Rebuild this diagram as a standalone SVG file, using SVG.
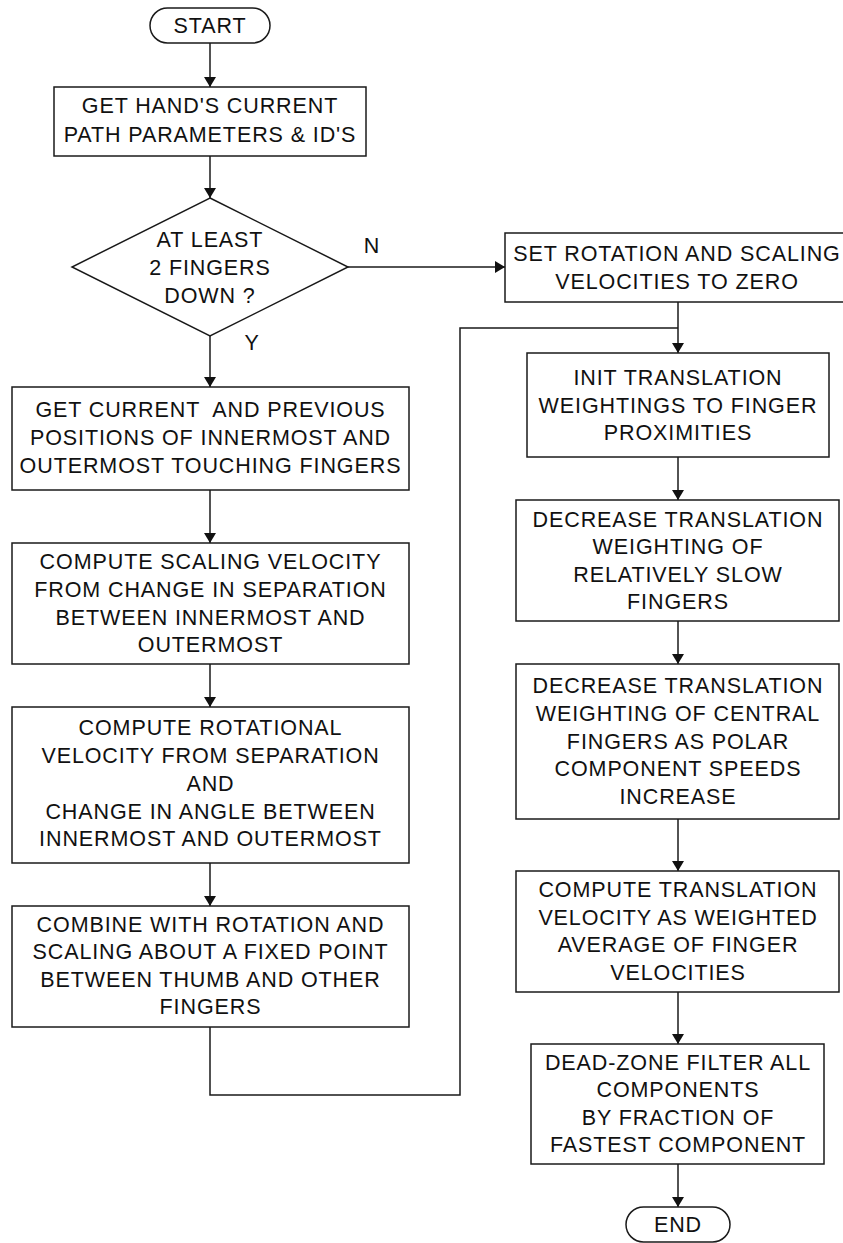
<svg xmlns="http://www.w3.org/2000/svg" width="843" height="1243" viewBox="0 0 843 1243">
<defs>
<marker id="arr" markerUnits="userSpaceOnUse" markerWidth="11" markerHeight="12" refX="10" refY="6" orient="auto">
<path d="M0,0 L10,6 L0,12 z" fill="#111"/>
</marker>
<style>
.b{fill:#fff;stroke:#1a1a1a;stroke-width:1.5}
.c{fill:none;stroke:#1a1a1a;stroke-width:1.5}
.t{font-family:"Liberation Sans",Arial,Helvetica,sans-serif;font-size:21.5px;letter-spacing:0.9px;fill:#111;text-anchor:middle}
</style>
</defs>
<rect width="843" height="1243" fill="#fff"/>
<g id="connectors">
<line class="c" x1="210" y1="43" x2="210" y2="87" marker-end="url(#arr)"/>
<line class="c" x1="210" y1="156" x2="210" y2="198" marker-end="url(#arr)"/>
<line class="c" x1="210" y1="336" x2="210" y2="387" marker-end="url(#arr)"/>
<line class="c" x1="348" y1="267" x2="505" y2="267" marker-end="url(#arr)"/>
<line class="c" x1="210" y1="490" x2="210" y2="543" marker-end="url(#arr)"/>
<line class="c" x1="210" y1="664" x2="210" y2="707" marker-end="url(#arr)"/>
<line class="c" x1="210" y1="863" x2="210" y2="906" marker-end="url(#arr)"/>
<path class="c" d="M210,1027 V1095 H460 V328 H678"/>
<line class="c" x1="678" y1="302" x2="678" y2="353" marker-end="url(#arr)"/>
<line class="c" x1="678" y1="457" x2="678" y2="500" marker-end="url(#arr)"/>
<line class="c" x1="678" y1="621" x2="678" y2="664" marker-end="url(#arr)"/>
<line class="c" x1="678" y1="819" x2="678" y2="871" marker-end="url(#arr)"/>
<line class="c" x1="678" y1="992" x2="678" y2="1044" marker-end="url(#arr)"/>
<line class="c" x1="678" y1="1164" x2="678" y2="1207" marker-end="url(#arr)"/>
<text class="t" x="372" y="253">N</text>
<text class="t" x="252" y="350">Y</text>
</g>
<g id="start">
<rect class="b" x="150" y="8" width="120" height="35" rx="17.5"/>
<text class="t" x="210" y="33">START</text>
</g>
<g id="get-params">
<rect class="b" x="54" y="87" width="312" height="69"/>
<text class="t" x="210" y="113">GET HAND'S CURRENT</text>
<text class="t" x="210" y="141.5">PATH PARAMETERS &amp; ID'S</text>
</g>
<g id="decision">
<polygon class="b" points="210,198 348,267 210,336 72,267"/>
<text class="t" x="210" y="247">AT LEAST</text>
<text class="t" x="210" y="275">2 FINGERS</text>
<text class="t" x="210" y="303">DOWN ?</text>
</g>
<g id="set-zero">
<rect class="b" x="505" y="233" width="350" height="69"/>
<text class="t" x="677" y="261">SET ROTATION AND SCALING</text>
<text class="t" x="677" y="288.5">VELOCITIES TO ZERO</text>
</g>
<g id="get-positions">
<rect class="b" x="12" y="387" width="397" height="103"/>
<text class="t" x="210.5" y="417" style="white-space:pre">GET CURRENT  AND PREVIOUS</text>
<text class="t" x="210.5" y="445">POSITIONS OF INNERMOST AND</text>
<text class="t" x="210.5" y="472.5">OUTERMOST TOUCHING FINGERS</text>
</g>
<g id="scaling">
<rect class="b" x="12" y="543" width="397" height="121"/>
<text class="t" x="210.5" y="569">COMPUTE SCALING VELOCITY</text>
<text class="t" x="210.5" y="597">FROM CHANGE IN SEPARATION</text>
<text class="t" x="210.5" y="624.5">BETWEEN INNERMOST AND</text>
<text class="t" x="210.5" y="652">OUTERMOST</text>
</g>
<g id="rotational">
<rect class="b" x="12" y="707" width="397" height="156"/>
<text class="t" x="210.5" y="735">COMPUTE ROTATIONAL</text>
<text class="t" x="210.5" y="763">VELOCITY FROM SEPARATION</text>
<text class="t" x="210.5" y="791">AND</text>
<text class="t" x="210.5" y="818.5">CHANGE IN ANGLE BETWEEN</text>
<text class="t" x="210.5" y="846">INNERMOST AND OUTERMOST</text>
</g>
<g id="combine">
<rect class="b" x="12" y="906" width="397" height="121"/>
<text class="t" x="210.5" y="931.5">COMBINE WITH ROTATION AND</text>
<text class="t" x="210.5" y="959">SCALING ABOUT A FIXED POINT</text>
<text class="t" x="210.5" y="986.5">BETWEEN THUMB AND OTHER</text>
<text class="t" x="210.5" y="1014">FINGERS</text>
</g>
<g id="init-weights">
<rect class="b" x="527" y="353" width="302" height="104"/>
<text class="t" x="678" y="385">INIT TRANSLATION</text>
<text class="t" x="678" y="412.5">WEIGHTINGS TO FINGER</text>
<text class="t" x="678" y="440">PROXIMITIES</text>
</g>
<g id="decrease-slow">
<rect class="b" x="516" y="500" width="323" height="121"/>
<text class="t" x="678" y="527">DECREASE TRANSLATION</text>
<text class="t" x="678" y="554">WEIGHTING OF</text>
<text class="t" x="678" y="581.5">RELATIVELY SLOW</text>
<text class="t" x="678" y="608.5">FINGERS</text>
</g>
<g id="decrease-central">
<rect class="b" x="516" y="664" width="323" height="155"/>
<text class="t" x="678" y="693">DECREASE TRANSLATION</text>
<text class="t" x="678" y="721">WEIGHTING OF CENTRAL</text>
<text class="t" x="678" y="748.5">FINGERS AS POLAR</text>
<text class="t" x="678" y="776">COMPONENT SPEEDS</text>
<text class="t" x="678" y="803.5">INCREASE</text>
</g>
<g id="translation">
<rect class="b" x="516" y="871" width="323" height="121"/>
<text class="t" x="678" y="897">COMPUTE TRANSLATION</text>
<text class="t" x="678" y="924.5">VELOCITY AS WEIGHTED</text>
<text class="t" x="678" y="952">AVERAGE OF FINGER</text>
<text class="t" x="678" y="980">VELOCITIES</text>
</g>
<g id="deadzone">
<rect class="b" x="531" y="1044" width="293" height="120"/>
<text class="t" x="678" y="1069.5">DEAD-ZONE FILTER ALL</text>
<text class="t" x="678" y="1097">COMPONENTS</text>
<text class="t" x="678" y="1124.5">BY FRACTION OF</text>
<text class="t" x="678" y="1152">FASTEST COMPONENT</text>
</g>
<g id="end">
<rect class="b" x="626" y="1207" width="104" height="35" rx="17.5"/>
<text class="t" x="678" y="1232">END</text>
</g>
</svg>
